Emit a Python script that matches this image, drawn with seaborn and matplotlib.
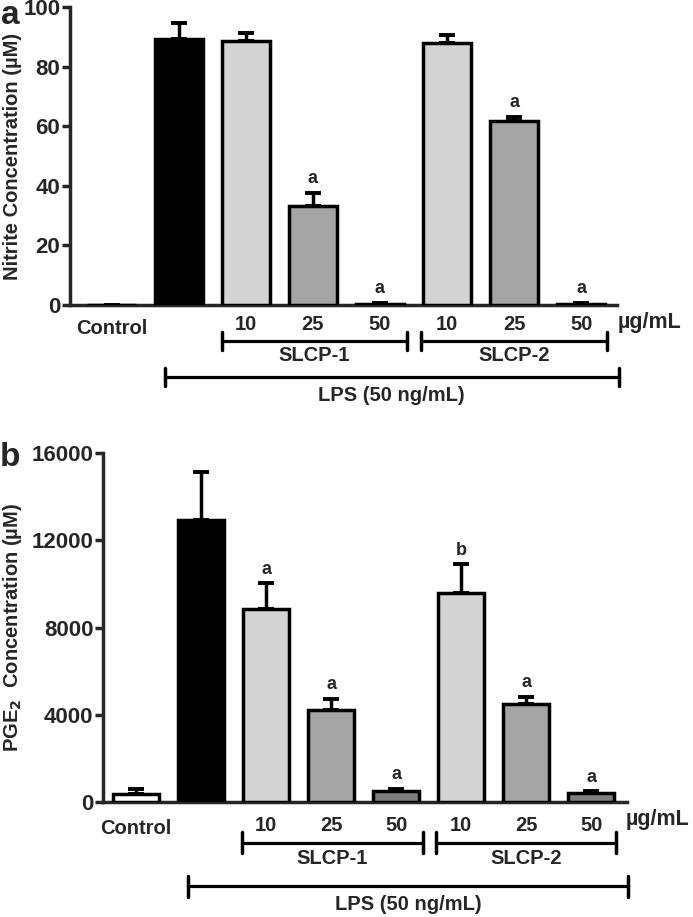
import matplotlib
matplotlib.use('Agg')
import matplotlib.pyplot as plt
import seaborn as sns
import pandas as pd
import numpy as np

sns.set_style('ticks')
plt.rcParams['font.family'] = ['Liberation Sans', 'DejaVu Sans']
plt.rcParams['font.weight'] = 'bold'
plt.rcParams['mathtext.default'] = 'bf'

groups = ['Control', 'LPS', 'SLCP-1 10', 'SLCP-1 25', 'SLCP-1 50',
          'SLCP-2 10', 'SLCP-2 25', 'SLCP-2 50']
dose_labels = ['Control', '', '10', '25', '50', '10', '25', '50']
bar_colors = ['white', 'black', '#d3d3d3', '#a5a5a5', '#7e7e7e',
              '#d3d3d3', '#a5a5a5', '#7e7e7e']

nitrite_mean = [0, 89.3, 88.6, 33.2, 0.4, 87.9, 61.7, 0.4]
nitrite_sem = [0, 5.3, 2.7, 4.4, 0.3, 2.7, 1.4, 0.3]
nitrite_sig = ['', '', '', 'a', 'a', '', 'a', 'a']

pge2_mean = [370, 12920, 8870, 4230, 500, 9600, 4500, 400]
pge2_sem = [230, 2210, 1150, 510, 100, 1300, 330, 100]
pge2_sig = ['', '', 'a', 'a', 'a', 'b', 'a', 'a']


def draw_panel(ax, means, sems, sig, ylabel, yticks, xlim, width, ylab_x,
               tick_fs, lay):
    df = pd.DataFrame({'group': groups, 'value': means})
    sns.barplot(data=df, x='group', y='value', hue='group', order=groups,
                palette=dict(zip(groups, bar_colors)), legend=False,
                width=width, edgecolor='black', linewidth=2.5, ax=ax,
                zorder=3)
    x = np.arange(len(groups))
    ax.errorbar(x, means, yerr=[np.zeros(len(sems)), sems], fmt='none',
                ecolor='black', elinewidth=2.5, capsize=5.5, capthick=2.8,
                zorder=2)
    for i, s in enumerate(sig):
        if s:
            ax.annotate(s, (x[i], means[i] + sems[i]), xytext=(0, 4),
                        textcoords='offset points', ha='center', va='bottom',
                        fontsize=13, fontweight='bold')
    ax.set_xlim(*xlim)
    ax.set_ylim(yticks[0], yticks[-1])
    ax.set_yticks(yticks)
    ax.set_yticklabels([str(t) for t in yticks], fontsize=tick_fs,
                       fontweight='bold')
    ax.set_xticks([])
    ax.set_xlabel('')
    ax.set_ylabel(ylabel, fontsize=14.5, fontweight='bold')
    ax.yaxis.set_label_coords(ylab_x, 0.5)
    sns.despine(ax=ax)
    for sp in ('left', 'bottom'):
        ax.spines[sp].set_linewidth(2.5)
    ax.tick_params(axis='y', length=6, width=2.5, pad=1)

    tr = ax.get_xaxis_transform()
    for i, lab in enumerate(dose_labels):
        if lab:
            yy = lay['ctrl'] if lab == 'Control' else lay['num']
            ax.text(x[i], yy, lab, transform=tr, ha='center', va='center',
                    fontsize=14.5, fontweight='bold', clip_on=False)
    ax.text(8.02, lay['unit'], 'µg/mL', transform=tr, ha='center',
            va='center', fontsize=15.5, fontweight='bold', clip_on=False)
    for (x0, x1), name in zip(lay['brackets'], ['SLCP-1', 'SLCP-2']):
        ax.plot([x0, x1], [lay['br'], lay['br']], transform=tr, color='black',
                lw=2.3, clip_on=False)
        for xe in (x0, x1):
            ax.plot([xe, xe], [lay['br'] - 0.03, lay['br'] + 0.03],
                    transform=tr, color='black', lw=2.5, clip_on=False)
        ax.text((x0 + x1) / 2, lay['brt'], name, transform=tr, ha='center',
                va='center', fontsize=14.5, fontweight='bold', clip_on=False)
    l0, l1 = lay['lps']
    ax.plot([l0, l1], [lay['lp'], lay['lp']], transform=tr, color='black',
            lw=2.3, clip_on=False)
    for xe in (l0, l1):
        ax.plot([xe, xe], [lay['lp'] - 0.03, lay['lp'] + 0.03], transform=tr,
                color='black', lw=2.5, clip_on=False)
    ax.text((l0 + l1) / 2, lay['lpt'], 'LPS (50 ng/mL)', transform=tr,
            ha='center', va='center', fontsize=14.5, fontweight='bold',
            clip_on=False)


fig = plt.figure(figsize=(6.93, 9.17), dpi=100)
ax1 = fig.add_axes([0.101, 0.6674, 0.789, 0.325])
ax2 = fig.add_axes([0.1486, 0.1254, 0.756, 0.3806])

draw_panel(ax1, nitrite_mean, nitrite_sem, nitrite_sig,
           'Nitrite Concentration (µM)', [0, 20, 40, 60, 80, 100],
           (-0.62, 7.53), 0.72, -0.088, 16,
           dict(num=-0.067, ctrl=-0.08, unit=-0.058, br=-0.121, brt=-0.170,
                lp=-0.242, lpt=-0.305,
                brackets=[(1.64, 4.40), (4.61, 7.39)], lps=(0.79, 7.56)))
draw_panel(ax2, pge2_mean, pge2_sem, pge2_sig,
           'PGE$_2$  Concentration (µM)', [0, 4000, 8000, 12000, 16000],
           (-0.51, 7.55), 0.71, -0.150, 16,
           dict(num=-0.066, ctrl=-0.077, unit=-0.049, br=-0.117, brt=-0.162,
                lp=-0.241, lpt=-0.295,
                brackets=[(1.63, 4.41), (4.61, 7.39)], lps=(0.80, 7.56)))

fig.text(0.002, 1 - 15 / 917, 'a', fontsize=24, fontweight='bold',
         va='center', ha='left')
fig.text(0.0, 1 - 458 / 917, 'b', fontsize=24, fontweight='bold',
         va='center', ha='left')

fig.savefig('out.png', dpi=100)
